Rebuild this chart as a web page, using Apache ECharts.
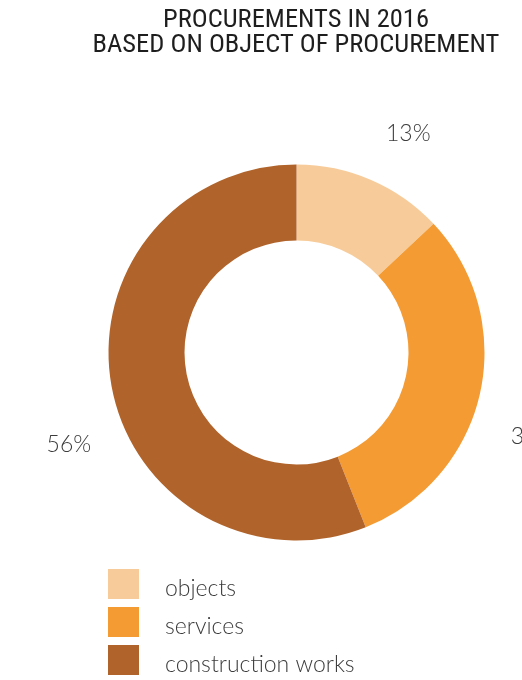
<!DOCTYPE html>
<html>
<head>
<meta charset="utf-8">
<script src="https://cdn.jsdelivr.net/npm/echarts@6/dist/echarts.min.js"></script>
<style>
html,body{margin:0;padding:0;background:#fff;}
#chart{width:522px;height:680px;}
</style>
</head>
<body>
<div id="chart"></div>
<script>
// ---- data ----
var categories = ['objects', 'services', 'construction works'];
var shares = [13, 31, 56];
var titleLines = ['PROCUREMENTS IN 2016', 'BASED ON OBJECT OF PROCUREMENT'];

// ---- style ----
var colors = ['#F7CC9A', '#F49B34', '#B0632A'];
var center = [296.5, 352.5];
var labelAngleShift = [3.7, 7.0, -11.2];   // degrees, label placement tweak
var labelRadius = [245.5, 251, 245.5];

var total = shares.reduce(function (a, b) { return a + b; }, 0);
var midAngles = [];
(function () {
  var acc = 0;
  for (var i = 0; i < shares.length; i++) {
    midAngles.push((acc + shares[i] / 2) / total * 360);
    acc += shares[i];
  }
})();

var chart = echarts.init(document.getElementById('chart'), null, {renderer: 'canvas'});
chart.setOption({
  animation: false,
  backgroundColor: '#ffffff',
  color: colors,
  title: {
    text: titleLines.join('\n'),
    left: 296,
    top: 8,
    padding: 0,
    textAlign: 'center',
    textStyle: {
      fontFamily: '"Liberation Sans Narrow", "Roboto Condensed", "Roboto", sans-serif',
      fontSize: 26.5,
      lineHeight: 25,
      fontWeight: 'normal',
      color: '#1e1e1e'
    }
  },
  legend: {
    orient: 'vertical',
    left: 108,
    top: 569,
    height: 120,
    padding: 0,
    itemWidth: 31,
    itemHeight: 30,
    itemGap: 6.5,
    icon: 'rect',
    selectedMode: false,
    data: categories,
    formatter: function (name) { return '{t|' + name + '}'; },
    textStyle: {
      fontSize: 10,
      lineHeight: 10,
      rich: {
        t: {
          fontFamily: 'Lato, "Open Sans", sans-serif',
          fontWeight: 300,
          fontSize: 23,
          lineHeight: 20,
          height: 20,
          color: '#3c3c3c',
          padding: [10, 0, 0, 21]
        }
      }
    }
  },
  series: [{
    type: 'pie',
    center: center,
    radius: [112, 188],
    startAngle: 90,
    clockwise: true,
    avoidLabelOverlap: false,
    silent: true,
    itemStyle: { borderWidth: 0 },
    label: {
      show: true,
      position: 'outside',
      formatter: function (p) { return p.value + '%'; },
      fontFamily: 'Lato, "Open Sans", sans-serif',
      fontWeight: 300,
      fontSize: 23,
      color: '#3c3c3c'
    },
    labelLine: { show: false },
    labelLayout: function (params) {
      var i = params.dataIndex;
      var a = (midAngles[i] + labelAngleShift[i]) * Math.PI / 180;
      var r = labelRadius[i];
      return {
        x: center[0] + r * Math.sin(a),
        y: center[1] - r * Math.cos(a),
        align: 'center',
        verticalAlign: 'middle'
      };
    },
    data: categories.map(function (c, i) { return { name: c, value: shares[i] }; })
  }]
});
</script>
</body>
</html>
